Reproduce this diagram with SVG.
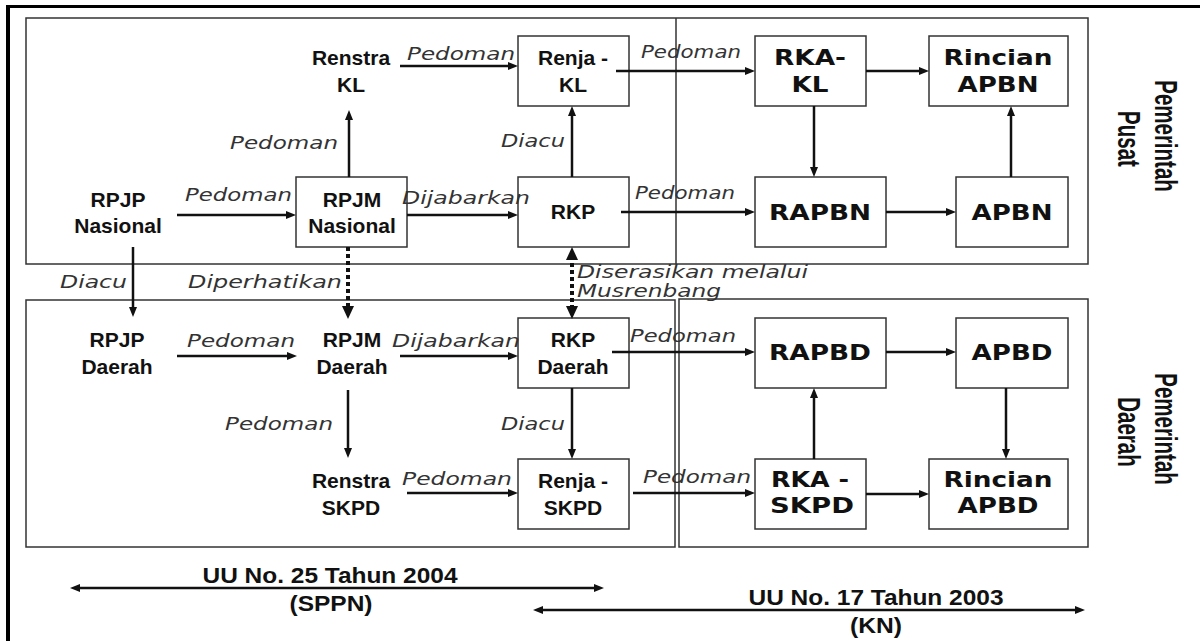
<svg xmlns="http://www.w3.org/2000/svg" width="1200" height="641" viewBox="0 0 1200 641">
<defs>
<marker id="ah" markerUnits="userSpaceOnUse" markerWidth="10" markerHeight="8" refX="3" refY="4" orient="auto-start-reverse"><path d="M0,0 L10,4 L0,8 z" fill="#111"/></marker>
<marker id="ahd" markerUnits="userSpaceOnUse" markerWidth="13" markerHeight="12" refX="4" refY="6" orient="auto-start-reverse"><path d="M0,0 L13,6 L0,12 z" fill="#111"/></marker>
<style>
.sec{fill:none;stroke:#333;stroke-width:1.5}
.box{fill:#fff;stroke:#333;stroke-width:1.5}
.a{stroke:#111;stroke-width:2.5;fill:none;marker-end:url(#ah)}
.aa{stroke:#111;stroke-width:2.5;fill:none;marker-end:url(#ah);marker-start:url(#ah)}
.d{stroke:#111;stroke-width:4;stroke-dasharray:4 3;fill:none;marker-end:url(#ahd)}
.dd{stroke:#111;stroke-width:4;stroke-dasharray:4 3;fill:none;marker-end:url(#ahd);marker-start:url(#ahd)}
.t{font-family:"Liberation Sans",Arial,sans-serif;font-weight:bold;font-size:21px;fill:#111;text-anchor:middle}
.u{font-family:"Liberation Sans",Arial,sans-serif;font-weight:bold;font-size:22px;fill:#111;text-anchor:middle}
.v{font-family:"DejaVu Sans",Verdana,sans-serif;font-weight:bold;font-size:21px;fill:#111;text-anchor:middle}
.i{font-family:"DejaVu Sans",Verdana,sans-serif;font-style:italic;font-size:18.5px;fill:#333}
.r{font-family:"Liberation Sans",Arial,sans-serif;font-weight:bold;font-size:25px;fill:#111;text-anchor:middle}
</style>
</defs>
<rect width="1200" height="641" fill="#fff"/>
<g id="frame">
<line x1="6" y1="6.5" x2="1200" y2="6.5" stroke="#000" stroke-width="3"/>
<line x1="8" y1="5" x2="8" y2="641" stroke="#000" stroke-width="4"/>
</g>
<g id="sections">
<rect class="sec" x="26" y="18" width="1062" height="246"/>
<line class="sec" x1="676" y1="18" x2="676" y2="264"/>
<rect class="sec" x="26" y="300" width="649" height="247"/>
<rect class="sec" x="679" y="299" width="409" height="248"/>
</g>
<g id="node-rpjp-nasional"><text class="t" x="118" y="207">RPJP</text><text class="t" x="118" y="233">Nasional</text></g>
<g id="node-renstra-kl"><text class="t" x="351" y="65">Renstra</text><text class="t" x="351" y="92">KL</text></g>
<g id="node-rpjm-nasional"><rect class="box" x="296" y="177" width="111" height="70"/><text class="t" x="352" y="207">RPJM</text><text class="t" x="352" y="233">Nasional</text></g>
<g id="node-renja-kl"><rect class="box" x="518" y="36" width="111" height="70"/><text class="t" x="573" y="65">Renja -</text><text class="t" x="573" y="92">KL</text></g>
<g id="node-rkp"><rect class="box" x="518" y="177" width="111" height="70"/><text class="t" x="573" y="219">RKP</text></g>
<g id="node-rka-kl"><rect class="box" x="755" y="36" width="111" height="70"/><text class="v" x="810" y="65" textLength="72" lengthAdjust="spacingAndGlyphs">RKA-</text><text class="v" x="810" y="92" textLength="37" lengthAdjust="spacingAndGlyphs">KL</text></g>
<g id="node-rincian-apbn"><rect class="box" x="929" y="36" width="139" height="70"/><text class="v" x="998" y="65" textLength="109" lengthAdjust="spacingAndGlyphs">Rincian</text><text class="v" x="998" y="92" textLength="81" lengthAdjust="spacingAndGlyphs">APBN</text></g>
<g id="node-rapbn"><rect class="box" x="755" y="177" width="131" height="70"/><text class="v" x="820" y="220" textLength="102" lengthAdjust="spacingAndGlyphs">RAPBN</text></g>
<g id="node-apbn"><rect class="box" x="956" y="177" width="112" height="70"/><text class="v" x="1012" y="220" textLength="81" lengthAdjust="spacingAndGlyphs">APBN</text></g>
<g id="node-rpjp-daerah"><text class="t" x="117" y="347">RPJP</text><text class="t" x="117" y="374">Daerah</text></g>
<g id="node-rpjm-daerah"><text class="t" x="352" y="347">RPJM</text><text class="t" x="352" y="374">Daerah</text></g>
<g id="node-renstra-skpd"><text class="t" x="351" y="488">Renstra</text><text class="t" x="351" y="515">SKPD</text></g>
<g id="node-rkp-daerah"><rect class="box" x="518" y="318" width="111" height="70"/><text class="t" x="573" y="347">RKP</text><text class="t" x="573" y="374">Daerah</text></g>
<g id="node-renja-skpd"><rect class="box" x="518" y="459" width="111" height="70"/><text class="t" x="573" y="488">Renja -</text><text class="t" x="573" y="515">SKPD</text></g>
<g id="node-rapbd"><rect class="box" x="755" y="318" width="131" height="70"/><text class="v" x="820" y="360" textLength="102" lengthAdjust="spacingAndGlyphs">RAPBD</text></g>
<g id="node-apbd"><rect class="box" x="956" y="318" width="112" height="70"/><text class="v" x="1012" y="360" textLength="81" lengthAdjust="spacingAndGlyphs">APBD</text></g>
<g id="node-rka-skpd"><rect class="box" x="755" y="459" width="111" height="70"/><text class="v" x="810" y="487" textLength="78" lengthAdjust="spacingAndGlyphs">RKA -</text><text class="v" x="812" y="513" textLength="84" lengthAdjust="spacingAndGlyphs">SKPD</text></g>
<g id="node-rincian-apbd"><rect class="box" x="929" y="459" width="139" height="70"/><text class="v" x="998" y="487" textLength="109" lengthAdjust="spacingAndGlyphs">Rincian</text><text class="v" x="998" y="513" textLength="81" lengthAdjust="spacingAndGlyphs">APBD</text></g>
<g id="connectors">
<line class="a" x1="177" y1="215" x2="289" y2="215"/>
<line class="a" x1="349" y1="177" x2="349" y2="117"/>
<line class="a" x1="400" y1="66" x2="511" y2="66"/>
<line class="a" x1="407" y1="215" x2="511" y2="215"/>
<line class="a" x1="572" y1="177" x2="572" y2="113"/>
<line class="a" x1="616" y1="71" x2="748" y2="71"/>
<line class="a" x1="621" y1="212" x2="748" y2="212"/>
<line class="a" x1="866" y1="71" x2="922" y2="71"/>
<line class="a" x1="814" y1="106" x2="814" y2="170"/>
<line class="a" x1="886" y1="212" x2="949" y2="212"/>
<line class="a" x1="1011" y1="177" x2="1011" y2="113"/>
<line class="a" x1="133" y1="247" x2="133" y2="310"/>
<line class="d" x1="348" y1="247" x2="348" y2="310"/>
<line class="dd" x1="572" y1="256" x2="572" y2="310"/>
<line class="a" x1="177" y1="356" x2="290" y2="356"/>
<line class="a" x1="400" y1="356" x2="511" y2="356"/>
<line class="a" x1="612" y1="352" x2="748" y2="352"/>
<line class="a" x1="886" y1="352" x2="949" y2="352"/>
<line class="a" x1="348" y1="390" x2="348" y2="451"/>
<line class="a" x1="572" y1="388" x2="572" y2="452"/>
<line class="a" x1="407" y1="493" x2="511" y2="493"/>
<line class="a" x1="633" y1="493" x2="748" y2="493"/>
<line class="a" x1="814" y1="459" x2="814" y2="395"/>
<line class="a" x1="866" y1="494" x2="922" y2="494"/>
<line class="a" x1="1006" y1="388" x2="1006" y2="452"/>
<line class="aa" x1="77" y1="588" x2="597" y2="588"/>
<line class="aa" x1="540" y1="610" x2="1078" y2="610"/>
</g>
<g id="labels">
<text class="i" x="185" y="201" textLength="107" lengthAdjust="spacingAndGlyphs">Pedoman</text>
<text class="i" x="230" y="149" textLength="108" lengthAdjust="spacingAndGlyphs">Pedoman</text>
<text class="i" x="407" y="60" textLength="108" lengthAdjust="spacingAndGlyphs">Pedoman</text>
<text class="i" x="402" y="204" textLength="128" lengthAdjust="spacingAndGlyphs">Dijabarkan</text>
<text class="i" x="501" y="147" textLength="64" lengthAdjust="spacingAndGlyphs">Diacu</text>
<text class="i" x="641" y="58" textLength="100" lengthAdjust="spacingAndGlyphs">Pedoman</text>
<text class="i" x="635" y="199" textLength="100" lengthAdjust="spacingAndGlyphs">Pedoman</text>
<text class="i" x="60" y="288" textLength="67" lengthAdjust="spacingAndGlyphs">Diacu</text>
<text class="i" x="188" y="288" textLength="154" lengthAdjust="spacingAndGlyphs">Diperhatikan</text>
<text class="i" x="577" y="278" textLength="231" lengthAdjust="spacingAndGlyphs">Diserasikan melalui</text>
<text class="i" x="577" y="297" textLength="144" lengthAdjust="spacingAndGlyphs">Musrenbang</text>
<text class="i" x="187" y="347" textLength="108" lengthAdjust="spacingAndGlyphs">Pedoman</text>
<text class="i" x="392" y="347" textLength="128" lengthAdjust="spacingAndGlyphs">Dijabarkan</text>
<text class="i" x="630" y="342" textLength="106" lengthAdjust="spacingAndGlyphs">Pedoman</text>
<text class="i" x="225" y="430" textLength="108" lengthAdjust="spacingAndGlyphs">Pedoman</text>
<text class="i" x="501" y="430" textLength="64" lengthAdjust="spacingAndGlyphs">Diacu</text>
<text class="i" x="402" y="485" textLength="110" lengthAdjust="spacingAndGlyphs">Pedoman</text>
<text class="i" x="643" y="483" textLength="108" lengthAdjust="spacingAndGlyphs">Pedoman</text>
</g>
<g id="side-labels">
<text class="r" transform="translate(1155,136) rotate(90) scale(0.82,1.25)">Pemerintah</text>
<text class="r" transform="translate(1118,139) rotate(90) scale(0.82,1.25)">Pusat</text>
<text class="r" transform="translate(1155,429) rotate(90) scale(0.82,1.25)">Pemerintah</text>
<text class="r" transform="translate(1118,432) rotate(90) scale(0.82,1.25)">Daerah</text>
</g>
<g id="law-labels">
<text class="u" x="330" y="583" textLength="255" lengthAdjust="spacingAndGlyphs">UU No. 25 Tahun 2004</text>
<text class="u" x="331" y="611" textLength="83" lengthAdjust="spacingAndGlyphs">(SPPN)</text>
<text class="u" x="876" y="605" textLength="255" lengthAdjust="spacingAndGlyphs">UU No. 17 Tahun 2003</text>
<text class="u" x="876" y="633" textLength="52" lengthAdjust="spacingAndGlyphs">(KN)</text>
</g>
</svg>
